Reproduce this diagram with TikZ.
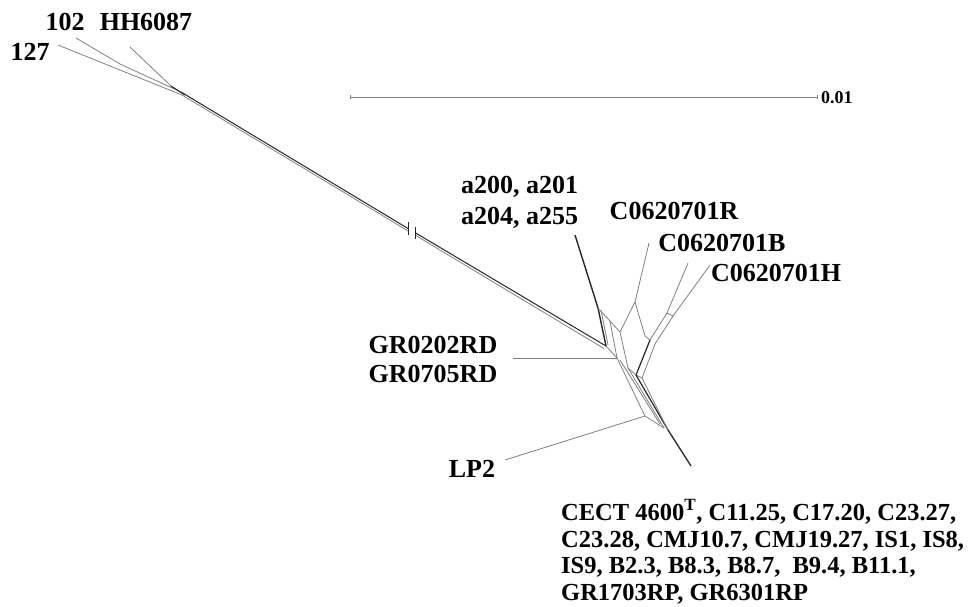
\documentclass[tikz,border=0pt]{standalone}
\usepackage{fontspec}
\setmainfont{Liberation Serif}
\begin{document}
\begin{tikzpicture}[x=1pt,y=-1pt,
  lab/.style={font=\fontsize{26}{28}\selectfont\bfseries, inner sep=0pt},
  blab/.style={font=\fontsize{24.5}{26}\selectfont\bfseries, inner sep=0pt, anchor=base west},
  gl/.style={draw=black!50, line width=0.8pt},
  dl/.style={draw=black!85, line width=1.2pt}]
\useasboundingbox (0,0) rectangle (977,606);
% ---------- top cluster ----------
\coordinate (l127) at (58,45);
\coordinate (l102) at (76,38);
\coordinate (lHH) at (130,47);
\coordinate (c102) at (120,64);
\coordinate (cHH) at (171,86);
\coordinate (ja) at (182,95);
\coordinate (jb) at (181,92);
\draw[gl] (l127) -- (ja);
\draw[gl] (l102) -- (c102) -- (jb);
\draw[gl] (lHH) -- (cHH) -- (185,95);
\draw[dl,line width=0.9pt] (cHH) -- (185,95);
% ---------- trunk with break ----------
\coordinate (b1) at (408,228.5);
\coordinate (b2) at (415,232.6);
\coordinate (A) at (606,346);
\draw[dl,line width=1pt] (jb) -- (b1);
\draw[gl] (ja) -- ([yshift=-2.4pt]b1);
\draw[dl,line width=1pt] (b2) -- (A);
\draw[gl] ([yshift=-2.4pt]b2) -- (604,348.5);
\draw[dl,line width=0.9pt] (408,222) -- (408,235);
\draw[dl,line width=0.9pt] (415,227) -- (415,239);
% ---------- central network ----------
\coordinate (la200) at (575,235);
\coordinate (P1) at (598,308);
\coordinate (P2) at (610,321);
\coordinate (P3) at (617,358);
\coordinate (lR) at (649,243);
\coordinate (R0) at (635,302);
\coordinate (Q1) at (620,332);
\coordinate (Q2) at (645,336);
\coordinate (Q3) at (628,368);
\coordinate (lB) at (688,263);
\coordinate (lH) at (710,265);
\coordinate (B0) at (667,313);
\coordinate (H0) at (673,316);
\coordinate (D1) at (636,375);
\coordinate (D2) at (642,378);
\coordinate (E1) at (650,340);
\coordinate (E2) at (655,344);
\coordinate (Z1) at (645,416);
\coordinate (Z2) at (660,424);
\coordinate (Z3) at (664,428);
\coordinate (Z4) at (668,430);
\coordinate (lC) at (691,466);
\coordinate (lGR) at (513,358);
\coordinate (lLP) at (505,460);
\draw[dl,line width=1.4pt] (la200) -- (P1) -- (A);
\draw[gl] (601,310) -- (608,345);
\draw[gl] (P1) -- (P2) -- (P3) -- (A);
\draw[gl] (lGR) -- (P3);
\draw[gl] (lR) -- (R0) -- (Q1);
\draw[gl] (R0) -- (Q2);
\draw[gl] (P2) -- (Q1) -- (Q3);
\draw[gl] (Q2) -- (E1);
\draw[gl] (lB) -- (B0);
\draw[gl] (lH) -- (H0);
\draw[gl] (B0) -- (H0);
\draw[gl] (B0) -- (E1);
\draw[gl] (H0) -- (E2);
\draw[dl] (E1) -- (D1);
\draw[gl] (E2) -- (D2);
\draw[gl] (Q3) -- (D1) -- (D2);
\draw[gl] (P3) -- (Z1);
\draw[gl] (620,360) -- (Z2);
\draw[gl] (Q3) -- (Z3);
\draw[dl] (D1) -- (Z4);
\draw[gl] (D2) -- (Z4);
\draw[gl] (lLP) -- (Z1) -- (Z3);
\draw[dl,line width=1.3pt] (Z4) -- (lC);
% ---------- scale bar ----------
\coordinate (s0) at (350,97);
\coordinate (s1) at (817,97);
\draw[gl] (s0) -- (s1);
\draw[gl] (350,95) -- (350,99);
\draw[gl] (817,95) -- (817,99);
\node[lab,font=\fontsize{18}{20}\selectfont\bfseries,anchor=west] (sc) at (821,98) {0.01};
% ---------- labels ----------
\node[lab] (t127) at (30,52) {127};
\node[lab] (t102) at (65,22) {102};
\node[lab] (tHH) at (146,22) {HH6087};
\node[lab,anchor=west] (ta1) at (461,187) {a200, a201};
\node[lab,anchor=west] (ta2) at (461,218) {a204, a255};
\node[lab] (tR) at (674,211) {C0620701R};
\node[lab] (tB) at (722,243) {C0620701B};
\node[lab] (tH) at (776,273) {C0620701H};
\node[lab] (tG1) at (433,345) {GR0202RD};
\node[lab] (tG2) at (433,374) {GR0705RD};
\node[lab] (tLP) at (472,469) {LP2};
\node[blab] (tC1) at (561,520) {CECT 4600\textsuperscript{T}, C11.25, C17.20, C23.27,};
\node[blab] (tC2) at (561,547) {C23.28, CMJ10.7, CMJ19.27, IS1, IS8,};
\node[blab] (tC3) at (561,573.5) {IS9, B2.3, B8.3, B8.7,\ \ B9.4, B11.1,};
\node[blab] (tC4) at (561,600) {GR1703RP, GR6301RP};
\end{tikzpicture}
\end{document}
